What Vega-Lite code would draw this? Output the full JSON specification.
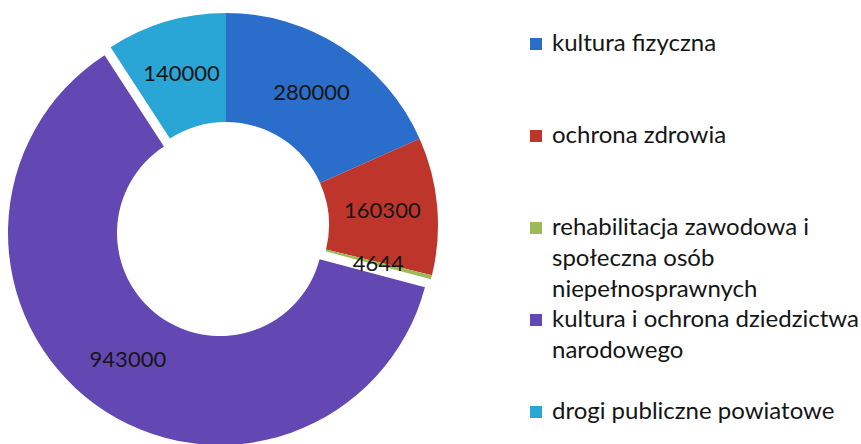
{
  "$schema": "https://vega.github.io/schema/vega-lite/v6.json",
  "width": 452,
  "height": 444,
  "padding": {"left": 0, "top": 0, "right": 409, "bottom": 0},
  "autosize": {"type": "none"},
  "background": "white",
  "config": {
    "view": {"stroke": null},
    "style": {"guide-label": {"lineHeight": 31}}
  },
  "data": {
    "values": [
      {"cat": "kultura fizyczna", "value": 280000},
      {"cat": "ochrona zdrowia", "value": 160300},
      {"cat": "rehabilitacja zawodowa i społeczna osób niepełnosprawnych", "value": 4644},
      {"cat": "kultura i ochrona dziedzictwa narodowego", "value": 943000},
      {"cat": "drogi publiczne powiatowe", "value": 140000}
    ]
  },
  "transform": [{"window": [{"op": "row_number", "as": "rank"}]}],
  "encoding": {
    "theta": {"field": "value", "type": "quantitative", "stack": true},
    "order": {"field": "rank", "type": "quantitative"},
    "color": {
      "field": "cat",
      "type": "nominal",
      "sort": null,
      "scale": {
        "domain": ["kultura fizyczna", "ochrona zdrowia", "rehabilitacja zawodowa i społeczna osób niepełnosprawnych", "kultura i ochrona dziedzictwa narodowego", "drogi publiczne powiatowe"],
        "range": ["#2b6dca", "#bd352b", "#9cbb58", "#6348b3", "#29a6d6"]
      },
      "legend": {
        "orient": "none",
        "legendX": 524,
        "legendY": 32,
        "padding": 0,
        "title": null,
        "symbolType": "square",
        "symbolSize": 144,
        "symbolStrokeWidth": 0,
        "labelFont": "Lato",
        "labelFontSize": 24,
        "labelColor": "#151515",
        "labelOffset": 4,
        "labelLimit": 400,
        "rowPadding": 6,
        "labelExpr": "datum.label === 'rehabilitacja zawodowa i społeczna osób niepełnosprawnych' ? ['rehabilitacja zawodowa i', 'społeczna osób', 'niepełnosprawnych'] : datum.label === 'kultura i ochrona dziedzictwa narodowego' ? ['kultura i ochrona dziedzictwa', 'narodowego', ''] : [datum.label, '', '']"
      }
    }
  },
  "layer": [
    {
      "mark": {"type": "arc", "radius": 212, "radius2": 103, "yOffset": 3},
      "encoding": {
        "opacity": {"condition": {"test": "datum.cat === 'kultura i ochrona dziedzictwa narodowego'", "value": 0}, "value": 1}
      }
    },
    {
      "mark": {"type": "arc", "radius": 212, "radius2": 103, "xOffset": -6, "yOffset": 11},
      "encoding": {
        "opacity": {"condition": {"test": "datum.cat === 'kultura i ochrona dziedzictwa narodowego'", "value": 1}, "value": 0}
      }
    },
    {
      "mark": {"type": "text", "radius": 157, "yOffset": 3, "font": "Lato", "fontSize": 22},
      "encoding": {
        "text": {"field": "value", "type": "quantitative", "format": "d"},
        "color": {"value": "#151515"},
        "opacity": {"condition": {"test": "datum.cat === 'kultura i ochrona dziedzictwa narodowego'", "value": 0}, "value": 1}
      }
    },
    {
      "mark": {"type": "text", "radius": 157, "xOffset": -6, "yOffset": 11, "font": "Lato", "fontSize": 22},
      "encoding": {
        "text": {"field": "value", "type": "quantitative", "format": "d"},
        "color": {"value": "#151515"},
        "opacity": {"condition": {"test": "datum.cat === 'kultura i ochrona dziedzictwa narodowego'", "value": 1}, "value": 0}
      }
    }
  ]
}
